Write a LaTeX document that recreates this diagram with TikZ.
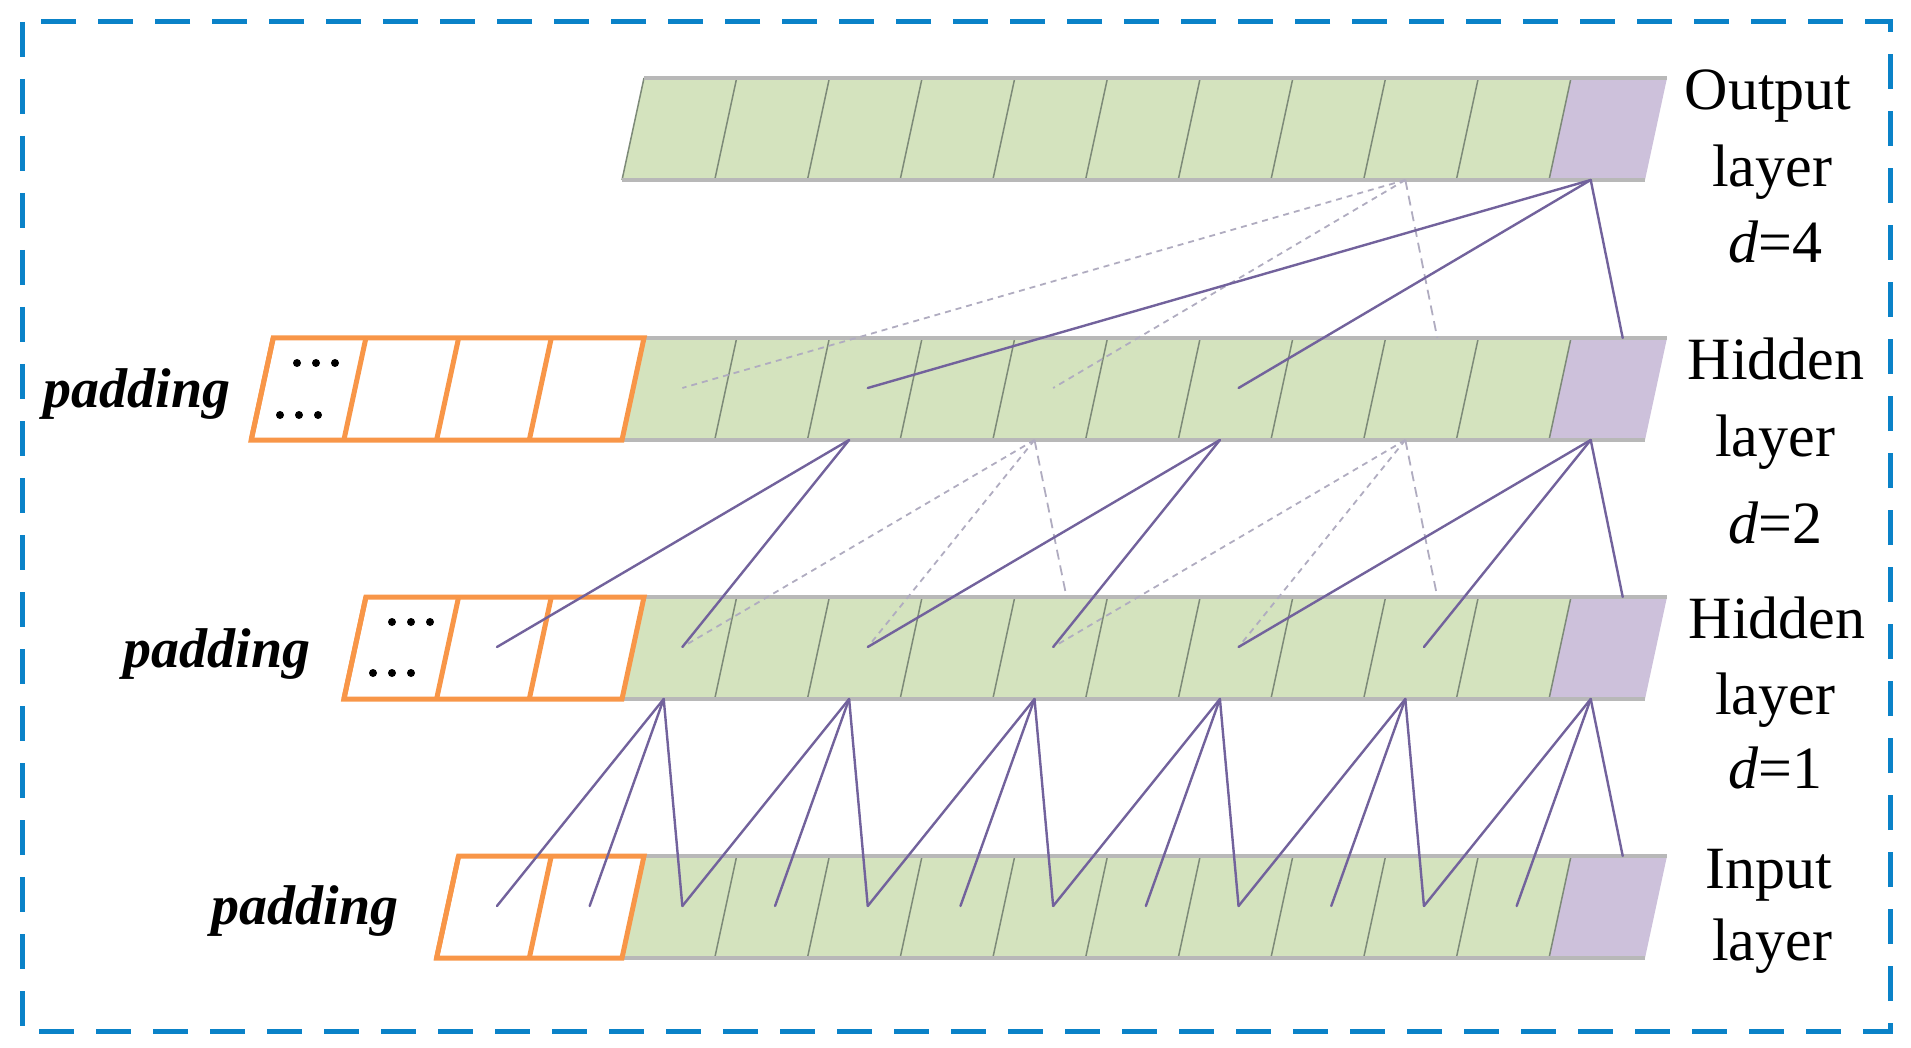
\documentclass[tikz,border=0pt]{standalone}
\usepackage{fontspec}
\setmainfont{Liberation Serif}
\definecolor{cellgreen}{RGB}{212,227,190}
\definecolor{cellpurple}{RGB}{205,193,219}
\definecolor{edgegrey}{RGB}{184,184,184}
\definecolor{divgrey}{RGB}{125,138,120}
\definecolor{padorange}{RGB}{248,150,72}
\definecolor{linkpurple}{RGB}{114,98,156}
\definecolor{linkgrey}{RGB}{176,172,192}
\definecolor{frameblue}{RGB}{10,130,200}
\def\W{92.7}
\def\XO{622}
\def\H{102}
\def\S{22}
\def\PW{96}
\newcommand\layerbar[2]{%
  \fill[cellgreen] ({\XO},{#1+\H}) -- ({\XO+10*\W},{#1+\H}) -- ({\XO+10*\W+\S},{#1}) -- ({\XO+\S},{#1}) -- cycle;
  \fill[cellpurple] ({\XO+10*\W},{#1+\H}) -- ({\XO+10*\W+\PW},{#1+\H}) -- ({\XO+10*\W+\PW+\S},{#1}) -- ({\XO+10*\W+\S},{#1}) -- cycle;
  \foreach \k in {0,...,10} \draw[divgrey,line width=1.5pt] ({\XO+\k*\W},{#1+\H}) -- ++(\S,-\H);
  \draw[edgegrey,line width=4.5pt] ({\XO+\S},{#1}) -- ({\XO+10*\W+\PW+\S},{#1});
  \draw[edgegrey,line width=4.5pt] ({\XO},{#1+\H}) -- ({\XO+10*\W+\PW},{#1+\H});
  \ifnum#2>0
    \fill[white] ({\XO-#2*\W},{#1+\H}) -- ({\XO},{#1+\H}) -- ({\XO+\S},{#1}) -- ({\XO-#2*\W+\S},{#1}) -- cycle;
    \foreach \k in {1,...,#2} \draw[padorange,line width=5pt] ({\XO-\k*\W},{#1+\H}) -- ++(\S,-\H);
    \draw[padorange,line width=5pt] ({\XO-#2*\W},{#1+\H}) -- ({\XO},{#1+\H}) -- ({\XO+\S},{#1}) -- ({\XO-#2*\W+\S},{#1}) -- cycle;
  \fi
}
\begin{document}
\begin{tikzpicture}[x=1pt,y=-1pt,
  link/.style={draw=linkpurple,line width=2.4pt,line cap=round},
  ghost/.style={draw=linkgrey,line width=1.8pt,dash pattern=on 6pt off 5pt},
  ghostv/.style={draw=linkgrey,line width=1.8pt,dash pattern=on 10pt off 6pt},
  lbl/.style={anchor=base,font=\fontsize{60}{72}\selectfont,inner sep=0pt},
  padlbl/.style={anchor=base,font=\fontsize{56}{66}\selectfont\bfseries\itshape,inner sep=0pt},
  dotmark/.style={fill=black}
]
\useasboundingbox (0,0) rectangle (1911,1048);

% frame
\draw[frameblue,line width=5pt,dash pattern=on 35pt off 22pt] (22,22) rectangle (1890,1031);

% layers
\layerbar{78}{0}
\layerbar{338}{4}
\layerbar{597}{3}
\layerbar{856}{2}

% dots in padding
\foreach \i in {-1,0,1} {
  \fill[dotmark] ({316+\i*19},363) circle (4);
  \fill[dotmark] ({299+\i*19},415) circle (4);
  \fill[dotmark] ({411+\i*19},622) circle (4);
  \fill[dotmark] ({392+\i*19},673) circle (4);
}

% connection coordinates
\foreach \L/\T in {out/78, h2/338, h1/597, in/856} {
  \foreach \k in {-4,...,10} {
    \coordinate (\L-a\k) at ({\XO+\k*\W+0.45*\W}, {\T+\H});
    \coordinate (\L-c\k) at ({\XO+\k*\W+0.5*\W+14}, {\T+50});
    \coordinate (\L-t\k) at ({\XO+\k*\W+0.45*\W+32}, {\T});
  }
}

% dashed (ghost) links
\draw[ghost] (out-a8) -- (h2-c0);
\draw[ghost] (out-a8) -- (h2-c4);
\draw[ghostv] (out-a8) -- (h2-t8);
\draw[ghost] (h2-a4) -- (h1-c0);
\draw[ghost] (h2-a4) -- (h1-c2);
\draw[ghostv] (h2-a4) -- (h1-t4);
\draw[ghost] (h2-a8) -- (h1-c4);
\draw[ghost] (h2-a8) -- (h1-c6);
\draw[ghostv] (h2-a8) -- (h1-t8);

% solid links: output <- hidden d=2
\draw[link] (out-a10) -- (h2-c2);
\draw[link] (out-a10) -- (h2-c6);
\draw[link] (out-a10) -- (h2-t10);
% hidden d=2 <- hidden d=1
\draw[link] (h2-a2) -- (h1-c-2);
\draw[link] (h2-a2) -- (h1-c0);
\draw[link] (h2-a6) -- (h1-c2);
\draw[link] (h2-a6) -- (h1-c4);
\draw[link] (h2-a10) -- (h1-c6);
\draw[link] (h2-a10) -- (h1-c8);
\draw[link] (h2-a10) -- (h1-t10);
% hidden d=1 <- input
\foreach \k in {0,2,4,6,8} {
  \pgfmathtruncatemacro\km{\k-1}
  \pgfmathtruncatemacro\kmm{\k-2}
  \draw[link] (h1-a\k) -- (in-c\kmm);
  \draw[link] (h1-a\k) -- (in-c\km);
  \draw[link] (h1-a\k) -- (in-c\k);
}
\draw[link] (h1-a10) -- (in-c8);
\draw[link] (h1-a10) -- (in-c9);
\draw[link] (h1-a10) -- (in-t10);

% labels
\node[lbl] (tout1) at (1768,110) {Output};
\node[lbl] (tout2) at (1772,187) {layer};
\node[lbl] (tout3) at (1775,263) {\textit{d}=4};
\node[lbl] (th2a) at (1776,380) {Hidden};
\node[lbl] (th2b) at (1775,456) {layer};
\node[lbl] (th2c) at (1775,543) {\textit{d}=2};
\node[lbl] (th1a) at (1777,638) {Hidden};
\node[lbl] (th1b) at (1775,714) {layer};
\node[lbl] (th1c) at (1775,788) {\textit{d}=1};
\node[lbl] (tin1) at (1769,888) {Input};
\node[lbl] (tin2) at (1772,960) {layer};

\node[padlbl] (pad2) at (137,407) {padding};
\node[padlbl] (pad1) at (217,667) {padding};
\node[padlbl] (pad0) at (305,924) {padding};
\end{tikzpicture}
\end{document}
